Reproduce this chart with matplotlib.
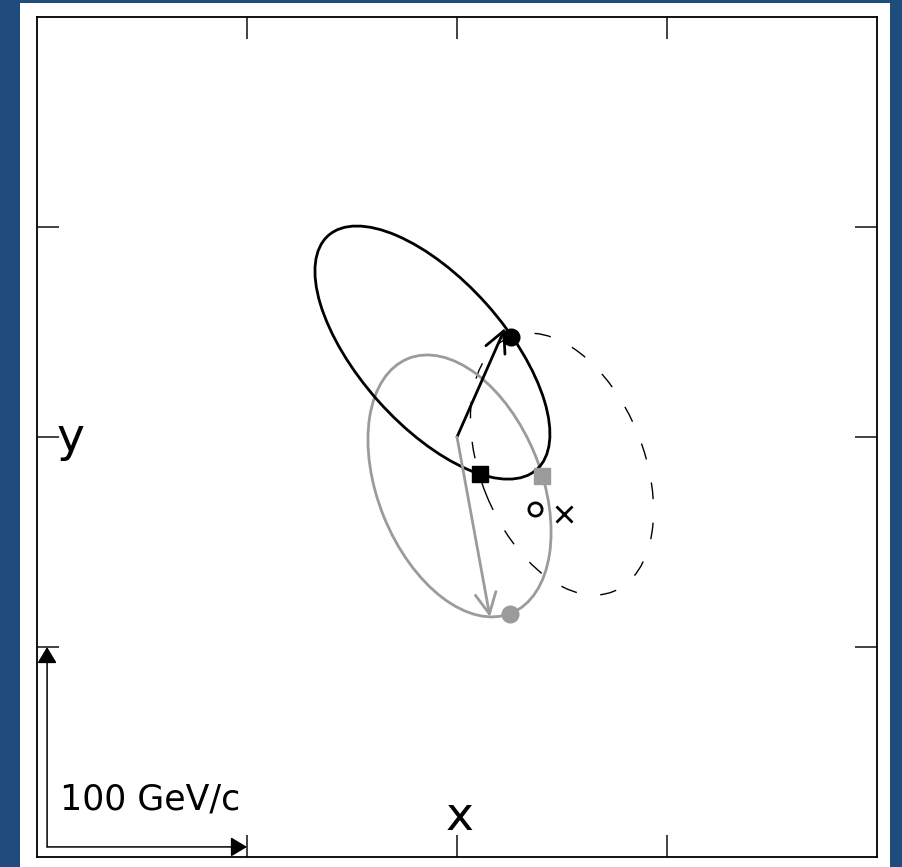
import numpy as np
import matplotlib
matplotlib.use("Agg")
import matplotlib.pyplot as plt
from matplotlib.patches import Ellipse, FancyArrowPatch, Rectangle

# ---- data (GeV/c, transverse plane) ----
# ellipses: centre x, centre y, semi-major, semi-minor, angle (deg)
nu_ellipse = [-11.7, 40.2, 74.6, 34.6, -48.3]          # black
nubar_ellipse = [1.2, -23.3, 65.4, 38.9, -68.0]        # gray
nubar_reflected = [50.0, -12.9, 65.4, 38.9, -68.0]     # dashed

# true neutrino momenta (arrows from origin)
nu_true = [22.9, 51.9]
nubar_true = [15.7, -85.7]

# solutions
nu_sol_x = [25.7, 10.9]        # black circle, black square
nu_sol_y = [47.6, -17.6]
nubar_sol_x = [25.2, 40.3]     # gray circle, gray square
nubar_sol_y = [-84.3, -18.6]

met_true = [37.1, -34.3]       # open circle
met_meas = [51.0, -36.7]       # cross

ticks = [-100, 0, 100]
lim = [-200, 200]

BLUE = '#1f4b7d'
GRAY = '#9b9b9b'

fig = plt.figure(figsize=(9.02, 8.67), dpi=100)
fig.patch.set_facecolor(BLUE)
fig.patches.append(Rectangle((20/902, 0), 870/902, 864/867, transform=fig.transFigure,
                             facecolor='white', edgecolor='none', zorder=-10))
ax = fig.add_axes([37/902, 10/867, 840/902, 840/867])
ax.set_xlim(lim)
ax.set_ylim(lim)
ax.set_xticks(ticks)
ax.set_yticks(ticks)
ax.set_xticklabels([])
ax.set_yticklabels([])
ax.tick_params(direction='in', length=16, width=1.2, color='#222222',
               top=True, right=True, bottom=True, left=True)
for s in ax.spines.values():
    s.set_linewidth(1.3)
    s.set_color('black')

def add_ell(p, **kw):
    e = Ellipse((p[0], p[1]), 2*p[2], 2*p[3], angle=p[4], fill=False, **kw)
    ax.add_patch(e)

add_ell(nubar_reflected, edgecolor='black', lw=1.0, linestyle=(0, (12, 17)), zorder=2)
add_ell(nubar_ellipse, edgecolor=GRAY, lw=2.0, zorder=3)
add_ell(nu_ellipse, edgecolor='black', lw=2.0, zorder=4)

for tip, col in [(nu_true, 'black'), (nubar_true, GRAY)]:
    a = FancyArrowPatch((0, 0), tuple(tip), arrowstyle='->,head_length=1.5,head_width=0.75',
                        mutation_scale=10, color=col, lw=2.0, shrinkA=0, shrinkB=0, zorder=5)
    ax.add_patch(a)

ax.plot(nu_sol_x[0], nu_sol_y[0], 'o', color='black', ms=12, zorder=6)
ax.plot(nu_sol_x[1], nu_sol_y[1], 's', color='black', ms=11.5, zorder=6)
ax.plot(nubar_sol_x[0], nubar_sol_y[0], 'o', color=GRAY, ms=12, zorder=6)
ax.plot(nubar_sol_x[1], nubar_sol_y[1], 's', color=GRAY, ms=11.5, zorder=6)
ax.plot(met_true[0], met_true[1], 'o', mfc='white', mec='black', mew=2, ms=9.5, zorder=6)
ax.plot(met_meas[0], met_meas[1], 'x', color='black', mew=2, ms=11.5, zorder=6)

# scale arrows
for end in [(-100, -195.2), (-195.2, -100)]:
    a = FancyArrowPatch((-195.2, -195.2), end, arrowstyle='-|>,head_length=1.0,head_width=0.6',
                        mutation_scale=10, color='black', lw=1.1, shrinkA=0, shrinkB=0, zorder=5)
    ax.add_patch(a)

ax.text(-189, -177.6, '100 GeV/c', fontsize=25, ha='left', va='baseline')
ax.text(1.4, -187, 'x', fontsize=34, ha='center', va='baseline')
ax.text(-190.5, -6.7, 'y', fontsize=34, ha='left', va='baseline')

fig.savefig('out.png', dpi=100, facecolor=fig.get_facecolor())
